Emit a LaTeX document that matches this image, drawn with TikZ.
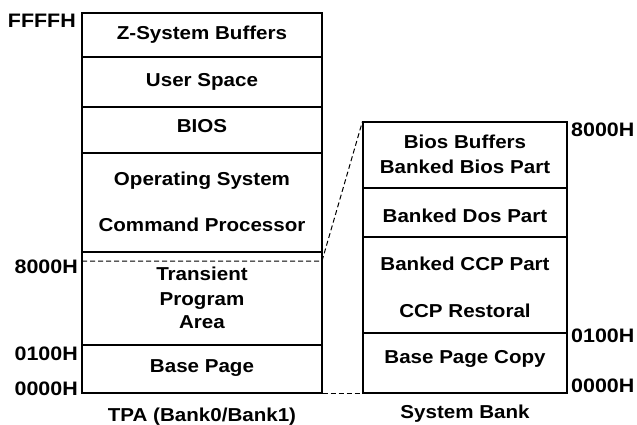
\documentclass[tikz,border=0pt]{standalone}
\usepackage{fontspec}
\setmainfont{Liberation Sans}[FakeStretch=1.1]
\begin{document}
\begin{tikzpicture}[x=1pt,y=-1pt,
  seg/.style={draw, line width=1.1pt, inner sep=0pt, minimum width=#1},
  seg/.default=240pt,
  txt/.style={anchor=base, inner sep=0pt, font=\fontsize{18.7}{20}\selectfont\bfseries},
  addrl/.style={anchor=base east, inner sep=0pt, font=\fontsize{19.5}{21}\selectfont\bfseries},
  addrr/.style={anchor=base west, inner sep=0pt, font=\fontsize{19.5}{21}\selectfont\bfseries},
  link/.style={dashed, dash pattern=on 5pt off 3pt, line width=1pt}]
\useasboundingbox (0,0) rectangle (637,425);

% TPA bank: memory segments, top to bottom
\node[seg, minimum height=44pt] (zsb)  at (202,35)    {};
\node[seg, minimum height=50pt] (usr)  at (202,82)    {};
\node[seg, minimum height=46pt] (bios) at (202,130)   {};
\node[seg, minimum height=99pt] (os)   at (202,202.5) {};
\node[seg, minimum height=93pt] (tpa)  at (202,298.5) {};
\node[seg, minimum height=48pt] (base) at (202,369)   {};

\node[txt] (t1) at (202,40)  {Z-System Buffers};
\node[txt] (t2) at (202,87)  {User Space};
\node[txt] (t3) at (202,133) {BIOS};
\node[txt] (t4) at (202,185) {Operating System};
\node[txt] (t5) at (202,231) {Command Processor};
\node[txt] (t6) at (202,280) {Transient};
\node[txt] (t7) at (202,305) {Program};
\node[txt] (t8) at (202,328) {Area};
\node[txt] (t9) at (202,372) {Base Page};
\node[txt] (cap1) at (202,421) {TPA (Bank0/Bank1)};

\node[addrl] (a1) at (76,28)  {FFFFH};
\node[addrl] (a2) at (78,273) {8000H};
\node[addrl] (a3) at (78,360) {0100H};
\node[addrl] (a4) at (78,395) {0000H};

% System bank segments
\node[seg=204pt, minimum height=66pt] (sb1) at (465,155) {};
\node[seg=204pt, minimum height=49pt] (sb2) at (465,212.5) {};
\node[seg=204pt, minimum height=96pt] (sb3) at (465,285) {};
\node[seg=204pt, minimum height=60pt] (sb4) at (465,363) {};

\node[txt] (s1) at (465,149) {Bios Buffers};
\node[txt] (s2) at (465,173) {Banked Bios Part};
\node[txt] (s3) at (465,222) {Banked Dos Part};
\node[txt] (s4) at (465,270) {Banked CCP Part};
\node[txt] (s5) at (465,317) {CCP Restoral};
\node[txt] (s6) at (465,363) {Base Page Copy};
\node[txt] (cap2) at (465,418) {System Bank};

\node[addrr] (b1) at (571,137) {8000H};
\node[addrr] (b2) at (571,342) {0100H};
\node[addrr] (b3) at (571,392) {0000H};

% 8000H boundary inside the TPA and its mapping onto the system bank
\coordinate (m1) at (82,261);
\coordinate (m2) at (322,261);
\draw[link] (m1) -- (m2) -- (sb1.north west);
\draw[link] (base.south east) -- (sb4.south west);
\end{tikzpicture}
\end{document}
